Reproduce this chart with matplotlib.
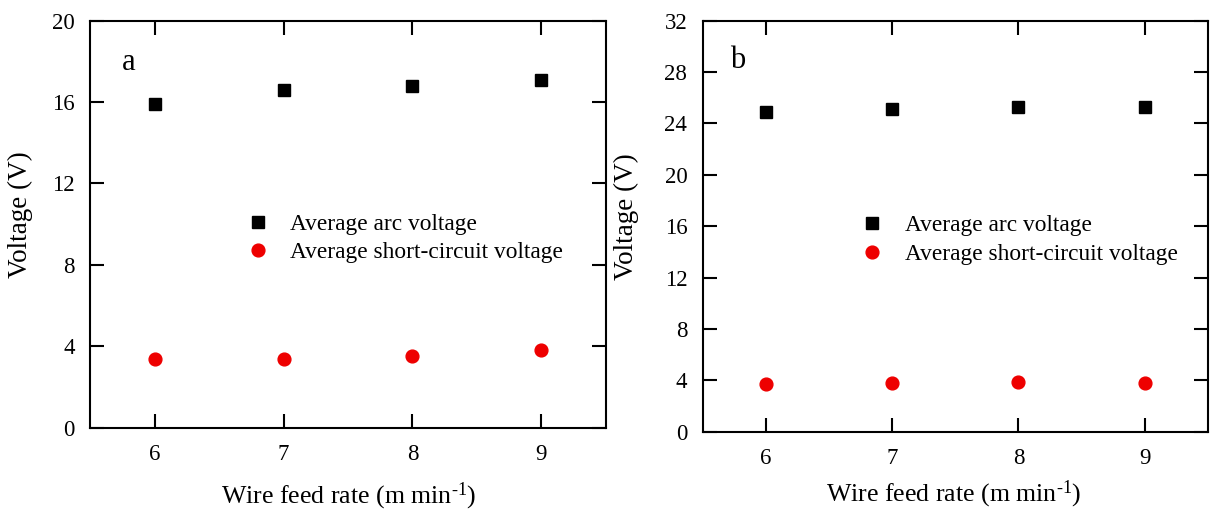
import matplotlib
matplotlib.use("Agg")
import matplotlib.pyplot as plt

# Data
wire_feed = [6, 7, 8, 9]
arc_a = [15.9, 16.6, 16.8, 17.1]
short_a = [3.4, 3.4, 3.5, 3.8]
arc_b = [24.9, 25.1, 25.3, 25.3]
short_b = [3.7, 3.8, 3.9, 3.8]
yticks_a = [0, 4, 8, 12, 16, 20]
yticks_b = [0, 4, 8, 12, 16, 20, 24, 28, 32]

plt.rcParams['font.family'] = ['Liberation Serif', 'DejaVu Serif']
plt.rcParams['mathtext.fontset'] = 'custom'
plt.rcParams['mathtext.rm'] = 'Liberation Serif'
plt.rcParams['mathtext.it'] = 'Liberation Serif:italic'

fig = plt.figure(figsize=(12.1, 5.16), dpi=100)
axa = fig.add_axes([0.0744, 0.1711, 0.4264, 0.7888])
axb = fig.add_axes([0.5807, 0.1634, 0.4176, 0.7965])

panels = [
    (axa, arc_a, short_a, yticks_a, 'a', (0.302, 0.465), 0.26, (0.074, 0.897), (-0.110, 0.524), 0.502, 11),
    (axb, arc_b, short_b, yticks_b, 'b', (0.313, 0.467), 0.33, (0.070, 0.904), (-0.126, 0.524), 0.496, 7),
]

for ax, arc, short, yt, letter, legpos, lspace, letpos, ylc, xlc, xlp in panels:
    ax.plot(wire_feed, arc, linestyle='none', marker='s', markersize=8.5,
            color='black', label='Average arc voltage')
    ax.plot(wire_feed, short, linestyle='none', marker='o', markersize=9.2,
            color='#ee0000', label='Average short-circuit voltage')
    ax.set_xlim(5.5, 9.5)
    ax.set_ylim(yt[0], yt[-1])
    ax.set_xticks(wire_feed)
    ax.set_yticks(yt)
    ax.tick_params(direction='in', length=10, width=1.5, labelsize=16.5,
                   top=True, right=True)
    ax.tick_params(axis='y', pad=11)
    ax.tick_params(axis='x', pad=12)
    for s in ax.spines.values():
        s.set_linewidth(1.5)
    ax.set_xlabel(r'Wire feed rate (m min$^{\text{-1}}$)', fontsize=18.6, labelpad=xlp)
    ax.xaxis.label.set_x(xlc)
    ax.set_ylabel('Voltage (V)', fontsize=19.5)
    ax.yaxis.set_label_coords(ylc[0], ylc[1])
    ax.text(letpos[0], letpos[1], letter, transform=ax.transAxes, fontsize=22,
            ha='center', va='center')
    ax.legend(loc='center left', bbox_to_anchor=legpos, frameon=False,
              fontsize=16.8, handlelength=1.0, handletextpad=0.88,
              borderpad=0, borderaxespad=0, labelspacing=lspace, numpoints=1)

fig.savefig('out.png', dpi=100)
